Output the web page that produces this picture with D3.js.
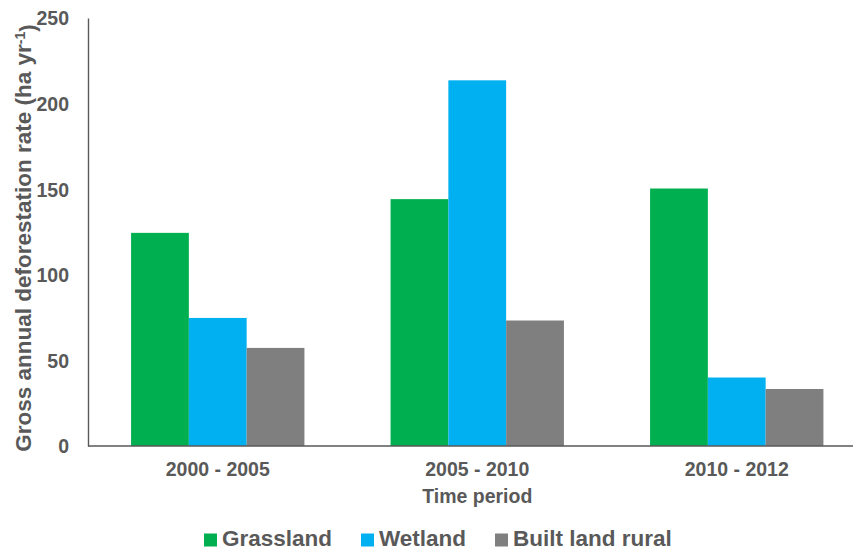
<!DOCTYPE html>
<html>
<head>
<meta charset="utf-8">
<script src="https://cdn.jsdelivr.net/npm/d3@7"></script>
<style>
  html, body { margin: 0; padding: 0; background: #fff; }
  svg { display: block; }
  text { font-family: "Liberation Sans", Arial, sans-serif; font-weight: bold; fill: #595959; }
</style>
</head>
<body>
<svg id="chart" width="855" height="551"></svg>
<script>
// Gross annual deforestation rate by land-use transition and period (ha/yr)
const periods = ["2000 - 2005", "2005 - 2010", "2010 - 2012"];
const seriesNames = ["Grassland", "Wetland", "Built land rural"];
const grassland = [124.5, 144.2, 150.4];
const wetland = [74.8, 213.6, 40.0];
const builtLandRural = [57.3, 73.3, 33.3];
const yTicks = [0, 50, 100, 150, 200, 250];
const colors = ["#00B050", "#00B0F0", "#7F7F7F"];

const seriesValues = [grassland, wetland, builtLandRural];

const svg = d3.select("#chart");
const plot = { left: 88, right: 866.5, top: 18, bottom: 446, axisEnd: 853 };

const x = d3.scaleBand().domain(periods).range([plot.left, plot.right]).paddingInner(0.332).paddingOuter(0.166);
const xInner = d3.scaleBand().domain(seriesNames).range([0, x.bandwidth()]);
const y = d3.scaleLinear().domain([0, 250]).range([plot.bottom, plot.top]);

// Bars
const rows = periods.map((p, i) => ({ period: p, values: seriesNames.map((s, j) => ({ series: s, value: seriesValues[j][i], color: colors[j] })) }));
svg.append("g").selectAll("g").data(rows).join("g")
  .attr("transform", d => `translate(${x(d.period)},0)`)
  .selectAll("rect").data(d => d.values).join("rect")
  .attr("x", d => xInner(d.series))
  .attr("width", xInner.bandwidth())
  .attr("y", d => y(d.value))
  .attr("height", d => y(0) - y(d.value))
  .attr("fill", d => d.color);

// Y axis
const yAxis = d3.axisLeft(y).tickValues(yTicks).tickSize(0).tickPadding(19);
const gy = svg.append("g").attr("transform", `translate(${plot.left},0)`).call(yAxis);
gy.select(".domain").attr("stroke", "#595959").attr("stroke-width", 1.4);
gy.selectAll("text").style("font-size", "19.5px").attr("fill", "#595959").attr("dy", "0.35em")
  .style("font-family", "'Liberation Sans', Arial, sans-serif").style("font-weight", "bold");

// X axis
const xAxis = d3.axisBottom(x).tickSize(0).tickPadding(16);
const gx = svg.append("g").attr("transform", `translate(0,${plot.bottom})`).call(xAxis);
gx.select(".domain").remove();
gx.append("line").attr("x1", plot.left).attr("x2", plot.axisEnd).attr("stroke", "#595959").attr("stroke-width", 1.4);
gx.selectAll("text").style("font-size", "19.5px").attr("fill", "#595959").attr("dy", "0.71em")
  .style("font-family", "'Liberation Sans', Arial, sans-serif").style("font-weight", "bold");

// Axis titles
svg.append("text").attr("x", (x(periods[1]) + x.bandwidth() / 2)).attr("y", 503)
  .attr("text-anchor", "middle").style("font-size", "19.5px").text("Time period");

const yTitle = svg.append("text").attr("transform", "translate(31,238) rotate(-90)")
  .attr("text-anchor", "middle").style("font-size", "22.5px");
yTitle.append("tspan").text("Gross annual deforestation rate (ha yr");
yTitle.append("tspan").attr("dy", "-0.45em").style("font-size", "14px").text("-1");
yTitle.append("tspan").attr("dy", "0.45em").text(")");

// Legend
const legendX = [204, 361, 495];
const legend = svg.append("g").selectAll("g").data(seriesNames).join("g")
  .attr("transform", (d, i) => `translate(${legendX[i]},546)`);
legend.append("rect").attr("x", 0).attr("y", -12.5).attr("width", 13).attr("height", 13)
  .attr("fill", (d, i) => colors[i]);
legend.append("text").attr("x", 18).attr("y", 0).style("font-size", "22.5px").text(d => d);
</script>
</body>
</html>
